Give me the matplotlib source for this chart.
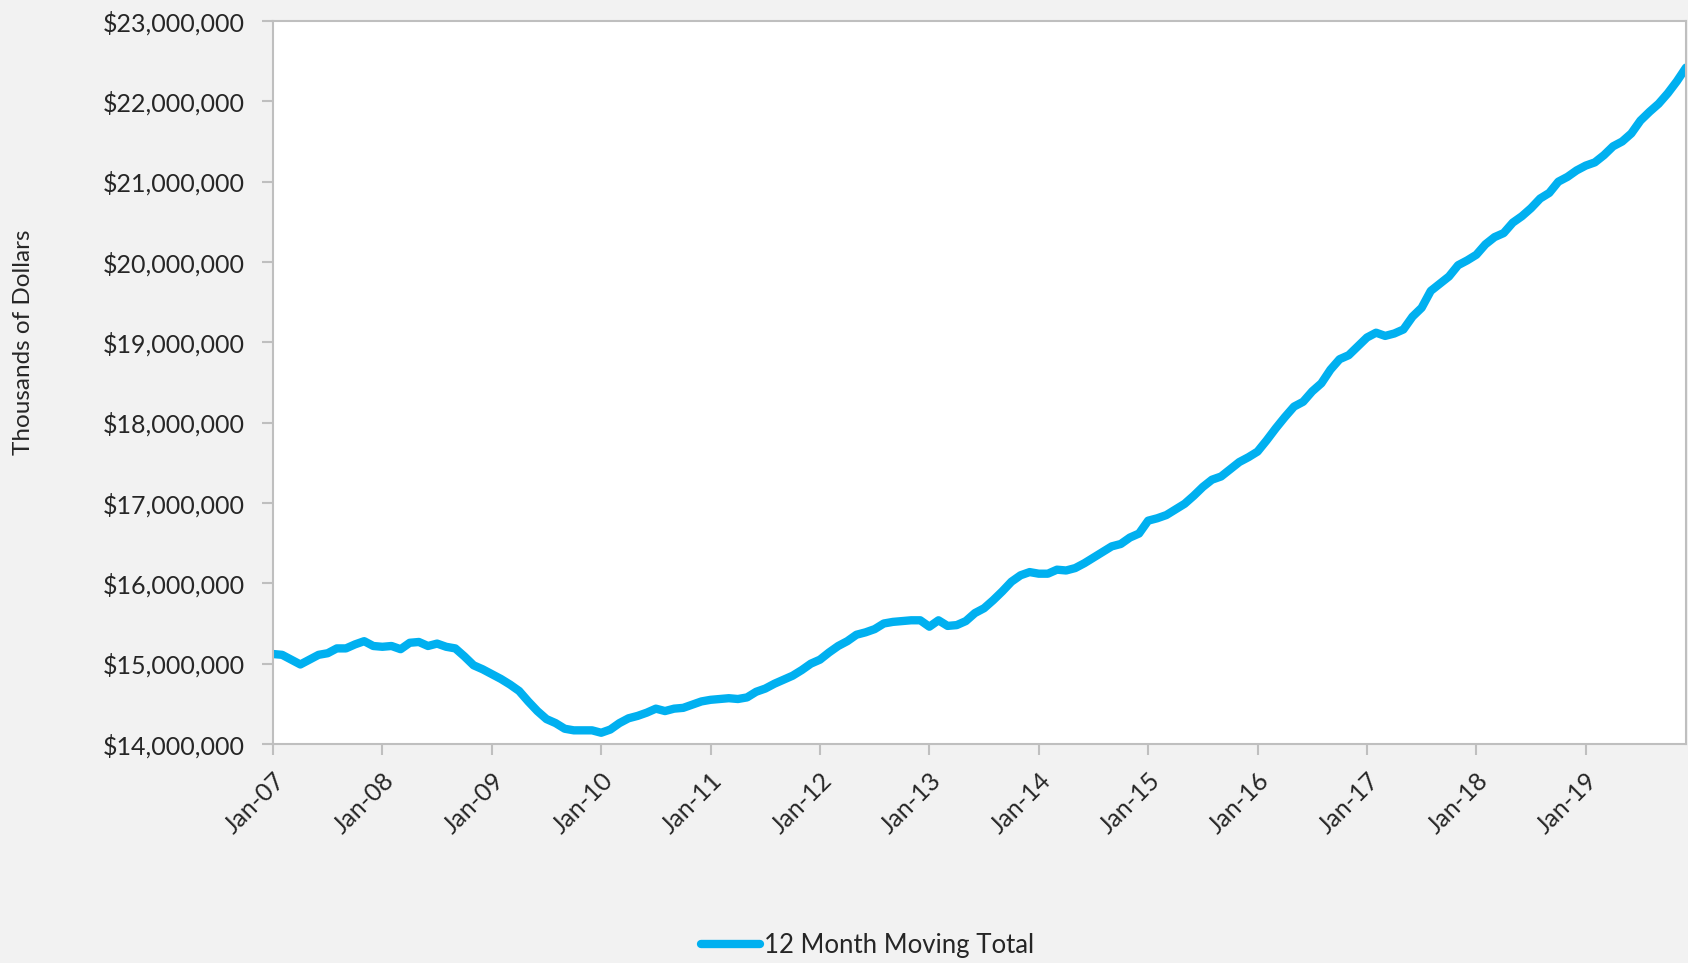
import numpy as np
import matplotlib
matplotlib.use('Agg')
import matplotlib.pyplot as plt
from matplotlib.ticker import FuncFormatter

# 12 month moving total, monthly Jan-07 .. Dec-19, in millions (of thousands of dollars)
y2007 = [15.12, 15.11, 15.05, 14.99, 15.05, 15.11, 15.13, 15.19, 15.19, 15.24, 15.28, 15.22]
y2008 = [15.21, 15.22, 15.18, 15.26, 15.27, 15.22, 15.25, 15.21, 15.19, 15.09, 14.98, 14.93]
y2009 = [14.87, 14.81, 14.74, 14.66, 14.53, 14.41, 14.31, 14.26, 14.19, 14.17, 14.17, 14.17]
y2010 = [14.14, 14.18, 14.26, 14.32, 14.35, 14.39, 14.44, 14.41, 14.44, 14.45, 14.49, 14.53]
y2011 = [14.55, 14.56, 14.57, 14.56, 14.58, 14.65, 14.69, 14.75, 14.80, 14.85, 14.92, 15.00]
y2012 = [15.05, 15.14, 15.22, 15.28, 15.36, 15.39, 15.43, 15.50, 15.52, 15.53, 15.54, 15.54]
y2013 = [15.46, 15.54, 15.47, 15.48, 15.53, 15.63, 15.69, 15.79, 15.90, 16.02, 16.10, 16.14]
y2014 = [16.12, 16.12, 16.17, 16.16, 16.19, 16.25, 16.32, 16.39, 16.46, 16.49, 16.57, 16.62]
y2015 = [16.78, 16.81, 16.85, 16.92, 16.99, 17.09, 17.20, 17.29, 17.33, 17.42, 17.51, 17.57]
y2016 = [17.64, 17.78, 17.93, 18.07, 18.20, 18.26, 18.39, 18.49, 18.66, 18.79, 18.84, 18.95]
y2017 = [19.06, 19.12, 19.08, 19.11, 19.16, 19.32, 19.43, 19.64, 19.73, 19.82, 19.96, 20.02]
y2018 = [20.09, 20.22, 20.31, 20.36, 20.49, 20.57, 20.67, 20.79, 20.86, 21.00, 21.06, 21.14]
y2019 = [21.20, 21.24, 21.33, 21.44, 21.50, 21.60, 21.76, 21.87, 21.97, 22.10, 22.25, 22.42]

tick_labels = ['Jan-07', 'Jan-08', 'Jan-09', 'Jan-10', 'Jan-11', 'Jan-12', 'Jan-13',
               'Jan-14', 'Jan-15', 'Jan-16', 'Jan-17', 'Jan-18', 'Jan-19']

values = np.array(y2007 + y2008 + y2009 + y2010 + y2011 + y2012 + y2013 +
                  y2014 + y2015 + y2016 + y2017 + y2018 + y2019) * 1e6
months = np.arange(len(values))

plt.rcParams['font.family'] = ['Lato', 'DejaVu Sans']
txt = '#262626'
grey = '#BFBFBF'

fig = plt.figure(figsize=(16.88, 9.63), dpi=100, facecolor='#F2F2F2')
ax = fig.add_axes([273 / 1688, 1 - 744 / 963, (1686 - 273) / 1688, (744 - 21) / 963])
ax.set_facecolor('white')

ax.plot(months, values, color='#00B0F0', lw=6, solid_capstyle='round',
        solid_joinstyle='round', label='12 Month Moving Total')

ax.set_xlim(0, len(values) - 1)
ax.set_ylim(14e6, 23e6)
ax.set_yticks(np.arange(14e6, 23e6 + 1, 1e6))
ax.yaxis.set_major_formatter(FuncFormatter(lambda v, p: f'${v:,.0f}'))
ax.set_xticks(months[::12][:len(tick_labels)])
ax.set_xticklabels(tick_labels, rotation=45, ha='right', va='top', rotation_mode='anchor')

for s in ax.spines.values():
    s.set_color(grey)
    s.set_linewidth(1.5)
ax.tick_params(axis='both', direction='out', length=8, width=1.5, color=grey,
               labelsize=18, labelcolor=txt)
ax.tick_params(axis='y', pad=12)
ax.tick_params(axis='x', pad=10)

fig.text(24 / 1688, 1 - 342 / 963, 'Thousands of Dollars', rotation=90,
         ha='center', va='center', fontsize=17.5, color=txt)

fig.legend(loc='center', bbox_to_anchor=(0.514, 0.018), frameon=False,
           fontsize=18.5, handlelength=2.3, handletextpad=0.15, labelcolor=txt)

fig.savefig('out.png', dpi=100, facecolor=fig.get_facecolor())
